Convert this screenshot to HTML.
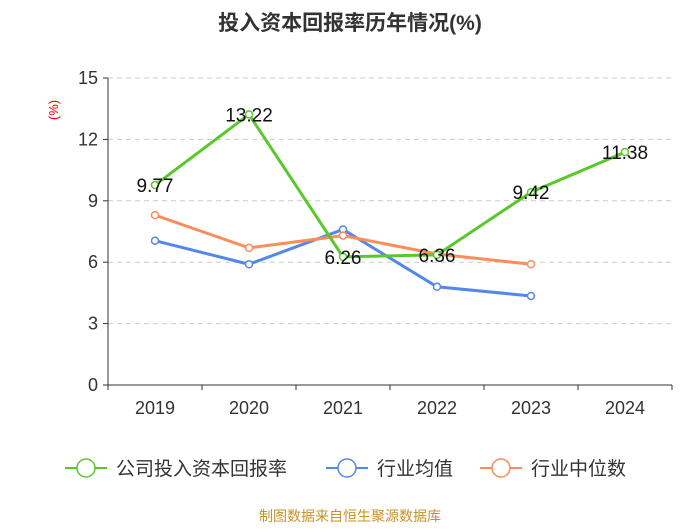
<!DOCTYPE html>
<html><head><meta charset="utf-8"><style>
body{margin:0;background:#fff;}
svg text{font-family:"Liberation Sans","Noto Sans CJK SC",sans-serif;}
</style></head><body>
<svg id="c" width="700" height="525" xmlns="http://www.w3.org/2000/svg">
<text x="350" y="30" text-anchor="middle" font-size="21" font-weight="bold" fill="#333">投入资本回报率历年情况(%)</text>
<text x="58" y="110" text-anchor="middle" font-size="13" fill="#e00" transform="rotate(-90 58 110)">(%)</text>
<g id="grid"></g><g id="axes"></g><g id="series"></g>
<g>
<g><line x1="65" y1="468" x2="107" y2="468" stroke="#5ac82c" stroke-width="2"/><circle cx="86" cy="468" r="9" fill="#fff" stroke="#5ac82c" stroke-width="1.5"/><text x="116" y="475" font-size="19" fill="#333">公司投入资本回报率</text></g>
<g><line x1="326" y1="468" x2="368" y2="468" stroke="#5488e8" stroke-width="2"/><circle cx="347" cy="468" r="9" fill="#fff" stroke="#5488e8" stroke-width="1.5"/><text x="377" y="475" font-size="19" fill="#333">行业均值</text></g>
<g><line x1="480" y1="468" x2="522" y2="468" stroke="#fa8d5a" stroke-width="2"/><circle cx="501" cy="468" r="9" fill="#fff" stroke="#fa8d5a" stroke-width="1.5"/><text x="531" y="475" font-size="19" fill="#333">行业中位数</text></g>
</g>
<text x="350" y="521" text-anchor="middle" font-size="14" fill="#c8922a">制图数据来自恒生聚源数据库</text>
</svg>
<script>
const categories=["2019","2020","2021","2022","2023","2024"];
const roic=[9.77,13.22,6.26,6.36,9.42,11.38];
const industryAvg=[7.05,5.9,7.6,4.8,4.35];
const industryMedian=[8.3,6.7,7.3,6.4,5.9];
const yTicks=[0,3,6,9,12,15];
const NS="http://www.w3.org/2000/svg";
const x0=108,x1=672,y0=385,yTop=78;
const bw=(x1-x0)/categories.length;
const X=i=>x0+bw*(i+0.5);
const Y=v=>y0-(v/15)*(y0-yTop);
function mk(t,a,p){const e=document.createElementNS(NS,t);for(const k in a)e.setAttribute(k,a[k]);p.appendChild(e);return e;}
const grid=document.getElementById('grid'),axes=document.getElementById('axes'),ser=document.getElementById('series');
yTicks.forEach(v=>{
 if(v>0){const g=mk('line',{x1:x0,x2:x1,y1:Y(v),y2:Y(v),stroke:'#ccc','stroke-dasharray':'5,4'},grid);
 }
 mk('line',{x1:x0-5,x2:x0,y1:Y(v),y2:Y(v),stroke:'#333'},axes);
 const t=mk('text',{x:x0-10,y:Y(v)+6,'text-anchor':'end','font-size':'18',fill:'#333'},axes);t.textContent=v;
 
});
mk('line',{x1:x0,x2:x0,y1:yTop,y2:y0,stroke:'#333'},axes);
mk('line',{x1:x0,x2:x1,y1:y0,y2:y0,stroke:'#333'},axes);
categories.forEach((c,i)=>{
 mk('line',{x1:x0+bw*i,x2:x0+bw*i,y1:y0,y2:y0+5,stroke:'#333'},axes);
 const t=mk('text',{x:X(i),y:y0+29,'text-anchor':'middle','font-size':'18',fill:'#333'},axes);t.textContent=c;
 
});
mk('line',{x1:x1,x2:x1,y1:y0,y2:y0+5,stroke:'#333'},axes);
function line(vals,color,name,labels){
 const g=mk('g',{},ser);
 
 
 mk('polyline',{points:vals.map((v,i)=>X(i)+','+Y(v)).join(' '),fill:'none',stroke:color,'stroke-width':3},g);
 vals.forEach((v,i)=>{
  const c=mk('circle',{cx:X(i),cy:Y(v),r:3.5,fill:'#fff',stroke:color,'stroke-width':1.5},g);
  
  
  if(labels){const t=mk('text',{x:X(i),y:Y(v)+7,'text-anchor':'middle','font-size':'19',fill:'#111'},g);t.textContent=v.toFixed(2);
   
   }
 });
}
line(industryAvg,'#5488e8','industry-avg-line',false);
line(industryMedian,'#fa8d5a','industry-median-line',false);
line(roic,'#5ac82c','roic-line',true);
</script>
</body></html>
